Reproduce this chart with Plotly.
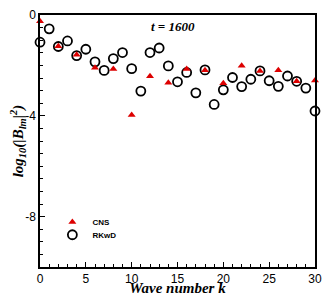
import plotly.graph_objects as go

k_cns = [0, 2, 4, 6, 8, 10, 12, 14, 16, 18, 20, 22, 24, 26, 28, 30]
cns = [-0.25, -1.24, -1.58, -2.09, -2.14, -3.97, -2.43, -2.69, -2.14, -2.19,
       -2.71, -2.01, -2.22, -2.19, -2.63, -2.60]

k_rk = list(range(0, 31))
rkwd = [-1.08, -0.55, -1.25, -1.03, -1.61, -1.36, -1.86, -2.20, -1.73, -1.49,
        -2.13, -3.02, -1.49, -1.31, -2.02, -2.65, -2.28, -3.09, -2.18, -3.55,
        -2.97, -2.48, -2.84, -2.55, -2.22, -2.61, -2.83, -2.42, -2.63, -2.90,
        -3.81]

x_ticks = [0, 5, 10, 15, 20, 25, 30]
y_tickvals = [0, -2, -4, -6, -8, -10]
y_ticktext = ["0", "", "-4", "", "-8", ""]

fig = go.Figure()
fig.add_trace(go.Scatter(
    x=k_rk, y=rkwd, mode="markers", name="RKwD", legend="legend2",
    marker=dict(symbol="circle-open", size=9, color="black", line=dict(width=1.8, color="black")),
    cliponaxis=False))
fig.add_trace(go.Scatter(
    x=k_cns, y=cns, mode="markers", name="CNS", legend="legend",
    marker=dict(symbol="triangle-up", size=7, color="#dd0000"),
    cliponaxis=False))

axis_common = dict(showline=True, linecolor="black", linewidth=1.5, mirror=True,
                   showgrid=False, zeroline=False, ticks="inside", tickcolor="black",
                   automargin=False,
                   tickfont=dict(family="Liberation Sans, Arial", size=12, color="black"))

fig.update_xaxes(range=[0, 30], tickvals=x_ticks, ticklen=5, tickwidth=1,
                 minor=dict(dtick=1, ticks="inside", ticklen=3, tickcolor="black"),
                 title=dict(text="<b><i>Wave number k</i></b>", standoff=0,
                            font=dict(family="Liberation Serif, Times New Roman", size=15, color="black")),
                 **axis_common)
fig.update_yaxes(range=[-10, 0], tickvals=y_tickvals, ticktext=y_ticktext, ticklen=5, tickwidth=1,
                 minor=dict(tickvals=[v * 0.5 for v in range(-19, 0, 1)], ticks="inside", ticklen=3, tickcolor="black"),
                 title=dict(text="<b><i>log<sub>10</sub>(|B<sub>lm</sub>|<sup>2</sup>)</i></b>", standoff=6,
                            font=dict(family="Liberation Serif, Times New Roman", size=15, color="black")),
                 **axis_common)

legfont = dict(family="Liberation Sans, Arial", size=8, color="black", weight="bold")
fig.update_layout(
    width=324, height=288,
    margin=dict(l=32, r=17, t=7, b=29),
    plot_bgcolor="white", paper_bgcolor="white",
    showlegend=True,
    legend=dict(x=0.045, y=0.179, xanchor="left", yanchor="middle", font=legfont,
                bgcolor="rgba(0,0,0,0)", borderwidth=0),
    legend2=dict(x=0.045, y=0.128, xanchor="left", yanchor="middle", font=legfont,
                 bgcolor="rgba(0,0,0,0)", borderwidth=0),
    annotations=[dict(x=14.5, y=-0.45, xref="x", yref="y", showarrow=False,
                      text="<b><i>t = 1600</i></b>",
                      font=dict(family="Liberation Serif, Times New Roman", size=13, color="black"))],
)

fig.write_html("out.html")
